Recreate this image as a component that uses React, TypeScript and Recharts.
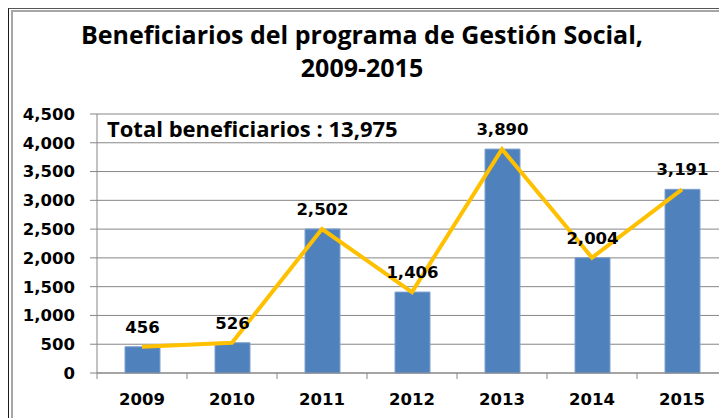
import React from 'react';
import { ComposedChart, Bar, Line, XAxis, YAxis, CartesianGrid, LabelList } from 'recharts';

const years = ['2009', '2010', '2011', '2012', '2013', '2014', '2015'];
const beneficiarios = [456, 526, 2502, 1406, 3890, 2004, 3191];
const yTicks = [0, 500, 1000, 1500, 2000, 2500, 3000, 3500, 4000, 4500];
const titleLines = ['Beneficiarios del programa de Gestión Social,', '2009-2015'];
const totalLabel = 'Total beneficiarios : 13,975';

const data = years.map((y, i) => ({ year: y, value: beneficiarios[i] }));

const fmt = (v: number) => Number(v).toLocaleString('en-US');

const CHART_W = 740;
const CHART_H = 418;
const M = { top: 114, right: 13, bottom: 0, left: 0 };
const Y_W = 97;
const X_H = 45;
const band = (CHART_W - M.left - M.right - Y_W) / years.length;
const FS = 16.5;

const XTick = (props: any) => {
  const { x, y, payload, index } = props;
  const axisY = y - 20;
  return (
    <g>
      <line x1={x - band / 2} x2={x - band / 2} y1={axisY} y2={axisY + 6} stroke="#868686" strokeWidth={1} />
      {index === years.length - 1 && (
        <line x1={x + band / 2} x2={x + band / 2} y1={axisY} y2={axisY + 6} stroke="#868686" strokeWidth={1} />
      )}
      <text x={x} y={y} dy="0.71em" textAnchor="middle" fontFamily="DejaVu Sans" fontWeight="bold" fontSize={FS} fill="#000">
        {payload.value}
      </text>
    </g>
  );
};

export default function App() {
  return (
    <div style={{ position: 'fixed', left: 0, top: 0, width: 719, height: 418, overflow: 'hidden', background: '#fff' }}>
      <ComposedChart
        width={CHART_W}
        height={CHART_H}
        data={data}
        margin={M}
        style={{ position: 'absolute', left: 0, top: 0 }}
      >
        <CartesianGrid vertical={false} stroke="#868686" strokeWidth={1} />
        <XAxis
          dataKey="year"
          height={X_H}
          tickSize={6}
          tickMargin={14}
          tickLine={false}
          axisLine={{ stroke: '#868686' }}
          tick={<XTick />}
          interval={0}
        />
        <YAxis
          width={Y_W}
          domain={[0, 4500]}
          ticks={yTicks}
          tickFormatter={fmt}
          tickSize={7}
          tickMargin={15}
          axisLine={{ stroke: '#868686' }}
          tickLine={{ stroke: '#868686' }}
          tick={{ fontFamily: 'DejaVu Sans', fontWeight: 'bold', fontSize: FS, fill: '#000' }}
          interval={0}
        />
        <Bar dataKey="value" fill="#4F81BD" stroke="#7FA2CF" strokeWidth={1} barSize={35} isAnimationActive={false}>
          <LabelList
            dataKey="value"
            position="top"
            offset={14}
            formatter={(v: any) => fmt(v)}
            style={{ fontFamily: 'DejaVu Sans', fontWeight: 'bold', fontSize: FS, fill: '#000' }}
          />
        </Bar>
        <Line dataKey="value" stroke="#FFC000" strokeWidth={4} dot={false} activeDot={false} isAnimationActive={false} />
      </ComposedChart>

      <div style={{ position: 'absolute', left: 8, top: 8, width: 800, height: 500, borderLeft: '1px solid #1a1a1a', borderTop: '1px solid #555' }} />
      <div style={{ position: 'absolute', left: 11, top: 10, width: 800, height: 500, borderLeft: '2px solid #a6a6a6', borderTop: '2px solid #a6a6a6' }} />

      <div
        style={{
          position: 'absolute',
          left: 0,
          top: 18,
          width: 724,
          textAlign: 'center',
          fontFamily: 'Open Sans',
          fontWeight: 'bold',
          fontSize: 25,
          lineHeight: '33px',
          color: '#000',
          whiteSpace: 'nowrap',
        }}
      >
        {titleLines.map((t) => (
          <div key={t}>{t}</div>
        ))}
      </div>

      <div
        style={{
          position: 'absolute',
          left: 107,
          top: 116,
          fontFamily: 'Open Sans',
          fontWeight: 'bold',
          fontSize: 22,
          lineHeight: '24px',
          color: '#000',
          whiteSpace: 'nowrap',
        }}
      >
        {totalLabel}
      </div>
    </div>
  );
}
